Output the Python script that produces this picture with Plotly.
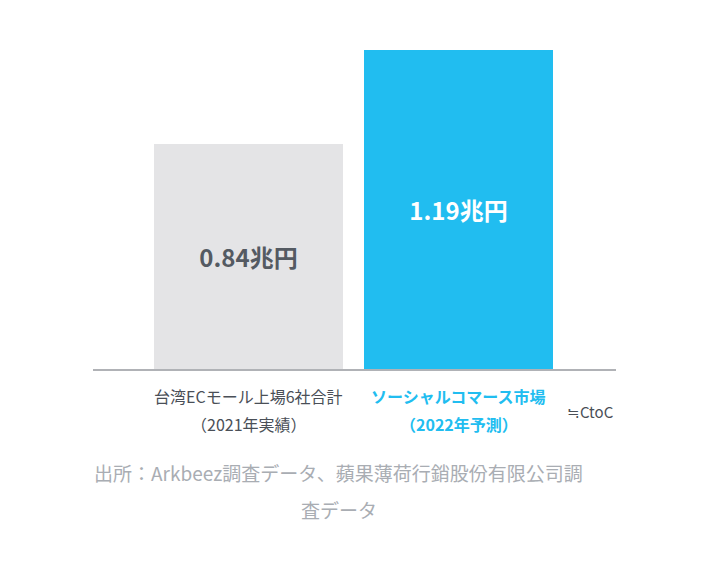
import plotly.graph_objects as go

# data
categories = ["台湾ECモール上場6社合計", "ソーシャルコマース市場"]
sub_labels = ["（2021年実績）", "（2022年予測）"]
values = [0.84, 1.19]
value_labels = ["0.84兆円", "1.19兆円"]
note_text = "≒CtoC"
source_lines = ["出所：Arkbeez調査データ、蘋果薄荷行銷股份有限公司調", "査データ"]

bar_colors = ["#e4e4e6", "#21bdf0"]
value_colors = ["#545a62", "#ffffff"]
label_colors = ["#4a4f57", "#21bdf0"]
label_weights = ["normal", "bold"]

FONT = "Noto Sans CJK JP"
xpos = list(range(len(categories)))

fig = go.Figure()
fig.add_trace(go.Bar(
    x=xpos, y=values, width=0.9,
    marker=dict(color=bar_colors, line=dict(width=0)),
    text=value_labels, textposition="inside", insidetextanchor="middle",
    textfont=dict(family=FONT, size=24, color=value_colors, weight="bold"),
    hoverinfo="skip",
))

# category labels under the bars
for i, (c, s) in enumerate(zip(categories, sub_labels)):
    fig.add_annotation(x=xpos[i], xref="x", y=0, yref="paper", yanchor="middle",
                       yshift=-27, text=c, showarrow=False,
                       font=dict(family=FONT, size=16, color=label_colors[i], weight=label_weights[i]))
    fig.add_annotation(x=xpos[i], xref="x", y=0, yref="paper", yanchor="middle",
                       yshift=-55, text=s, showarrow=False,
                       font=dict(family=FONT, size=16, color=label_colors[i], weight=label_weights[i]))

fig.add_annotation(x=1, xref="paper", xanchor="right", y=0, yref="paper", yanchor="middle",
                   yshift=-42, text=note_text, showarrow=False,
                   font=dict(family=FONT, size=15, color="#4a4f57"))

# source note
for j, line in enumerate(source_lines):
    fig.add_annotation(x=0.47, xref="paper", y=0, yref="paper", yanchor="middle",
                       yshift=-103 - 37 * j, text=line, showarrow=False,
                       font=dict(family=FONT, size=19, color="#a9adb3"))

fig.update_xaxes(range=[-0.7405, 1.75], showline=True, linecolor="#b0b2b6", linewidth=2,
                 showgrid=False, zeroline=False, showticklabels=False, ticks="", fixedrange=True)
fig.update_yaxes(range=[0, 1.19], visible=False, showgrid=False, zeroline=False, fixedrange=True)
fig.update_layout(
    width=708, height=568,
    margin=dict(l=85, r=100, t=42, b=207),
    paper_bgcolor="white", plot_bgcolor="white",
    showlegend=False, bargap=0,
    font=dict(family=FONT),
)

fig.write_html("out.html")
